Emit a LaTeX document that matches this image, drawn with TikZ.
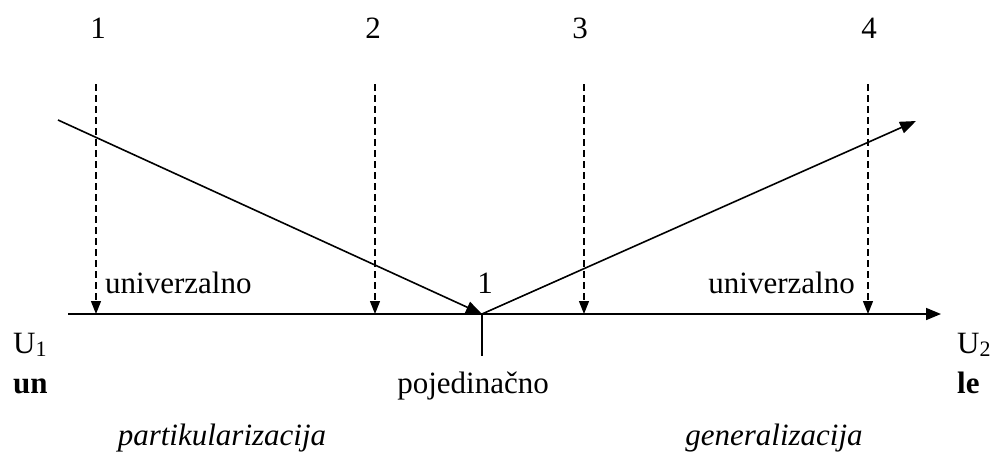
\documentclass[tikz,border=0pt]{standalone}
\usepackage{fontspec}
\setmainfont{Liberation Serif}
\usetikzlibrary{arrows.meta}
\newcommand{\subdig}[1]{\raisebox{-3pt}{\fontsize{22}{22}\selectfont #1}}
\begin{document}
\begin{tikzpicture}[x=1pt, y=-1pt,
        lbl/.style={inner sep=0pt, anchor=base, font=\fontsize{31}{37}\selectfont},
        axis/.style={line width=1.6pt, -{Triangle[length=15pt, width=12pt]}},
        ray/.style={line width=1.6pt, -{Triangle[length=16pt, width=12pt]}},
        drop/.style={line width=1.3pt, dash pattern=on 7pt off 4pt, -{Triangle[length=13pt, width=10pt]}}
    ]
        \useasboundingbox (0,0) rectangle (994,456);

        % Axis
        \coordinate (start) at (68,314);
        \coordinate (end) at (941,314);
        \coordinate (mid) at (482,314);
        \coordinate (tick) at (482,356);
        \draw[axis] (start) -- (end);
        \draw[line width=1.6pt] (mid) -- (tick);

        % Numbers on top
        \node[lbl] (n1) at (98,38) {1};
        \node[lbl] (n2) at (373,38) {2};
        \node[lbl] (n3) at (580,38) {3};
        \node[lbl] (n4) at (869,38) {4};

        % Dashed drops
        \coordinate (t1) at (96,84);   \coordinate (b1) at (96,314);
        \coordinate (t2) at (375,84);  \coordinate (b2) at (375,314);
        \coordinate (t3) at (584,84);  \coordinate (b3) at (584,314);
        \coordinate (t4) at (868,84);  \coordinate (b4) at (868,314);
        \draw[drop] (t1) -- (b1);
        \draw[drop] (t2) -- (b2);
        \draw[drop] (t3) -- (b3);
        \draw[drop] (t4) -- (b4);

        % Rays
        \coordinate (left) at (58,120);
        \coordinate (right) at (916,121);
        \draw[ray] (left) -- (mid);
        \draw[ray] (mid) -- (right);

        % Labels
        \node[lbl, anchor=base west] (univl) at (105,293) {univerzalno};
        \node[lbl, anchor=base east] (univr) at (855,293) {univerzalno};
        \node[lbl] (one) at (485,293) {1};
        \node[lbl, anchor=base west] (u1) at (13,353) {U\subdig{1}};
        \node[lbl, anchor=base west] (un) at (13,393) {\bfseries un};
        \node[lbl, anchor=base west] (u2) at (957,353) {U\subdig{2}};
        \node[lbl, anchor=base west] (le) at (957,393) {\bfseries le};
        \node[lbl] (poj) at (473,393) {pojedinačno};
        \node[lbl] (part) at (222,445) {\itshape partikularizacija};
        \node[lbl] (gen) at (774,445) {\itshape generalizacija};

    \end{tikzpicture}
\end{document}
